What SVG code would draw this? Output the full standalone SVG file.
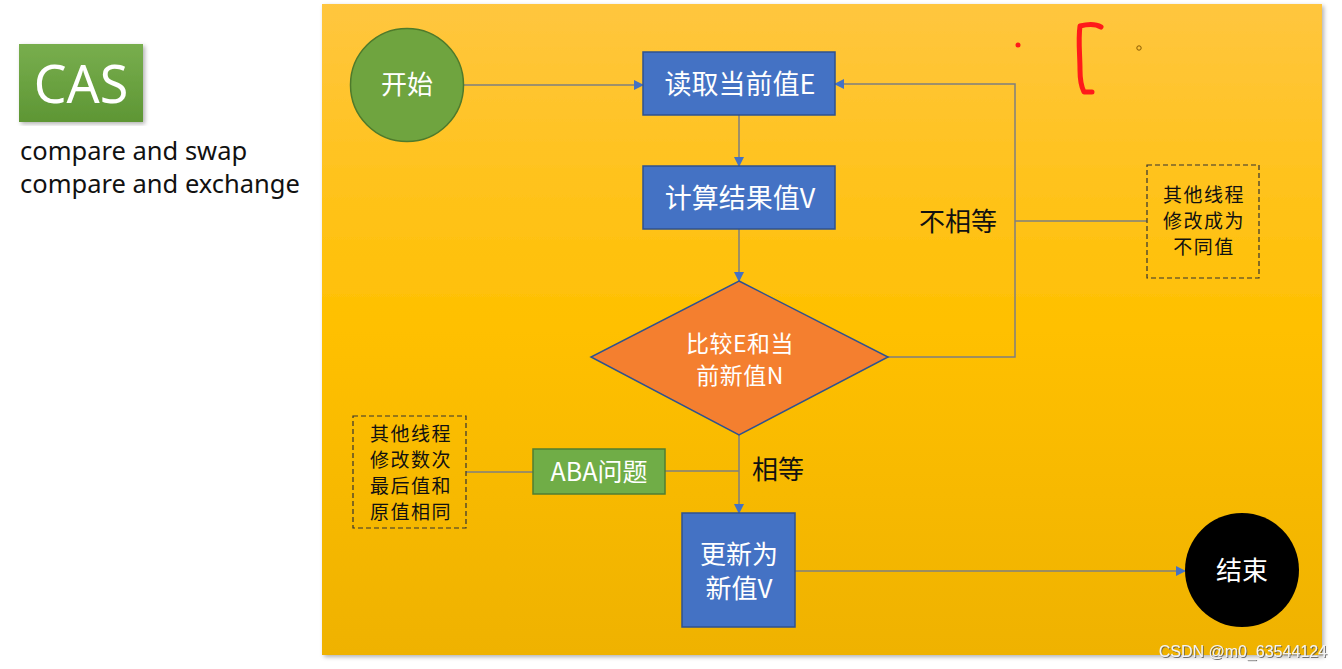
<svg xmlns="http://www.w3.org/2000/svg" width="1342" height="669" viewBox="0 0 1342 669">
<defs>
<linearGradient id="bg" x1="0" y1="0" x2="0" y2="1">
<stop offset="0" stop-color="#FFC63F"/>
<stop offset="0.5" stop-color="#FFC000"/>
<stop offset="1" stop-color="#EFB200"/>
</linearGradient>
<linearGradient id="gcas" x1="0" y1="0" x2="0" y2="1">
<stop offset="0" stop-color="#78AE4E"/>
<stop offset="1" stop-color="#5E9634"/>
</linearGradient>
<filter id="sh" x="-5%" y="-5%" width="110%" height="110%">
<feDropShadow dx="2" dy="2" stdDeviation="2" flood-color="#000" flood-opacity="0.3"/>
</filter>
<filter id="tsh" x="-5%" y="-20%" width="110%" height="140%">
<feDropShadow dx="1" dy="1" stdDeviation="0.6" flood-color="#555" flood-opacity="0.8"/>
</filter>
<marker id="arr" viewBox="0 0 10 10" refX="9" refY="5" markerWidth="10" markerHeight="10" markerUnits="userSpaceOnUse" orient="auto">
<path d="M0,0 L10,5 L0,10 z" fill="#4472C4"/>
</marker>
<style>
.cjk{font-family:"Noto Sans CJK SC","Noto Sans",sans-serif;}
.en{font-family:"Noto Sans","Open Sans",sans-serif;}
.w{fill:#fff;}
.k{fill:#111;}
.note{font-size:19px;letter-spacing:1.5px;}
.blue{fill:#4472C4;stroke:#2F528F;stroke-width:1.5;}
.green{fill:#70AD47;stroke:#507E32;stroke-width:1.5;}
.dash{fill:none;stroke:#333;stroke-width:1.2;stroke-dasharray:5 3;}
.ln{fill:none;stroke:#7F7F7F;stroke-width:1.5;}
.la{fill:none;stroke:#7F7F7F;stroke-width:1.5;marker-end:url(#arr);}
</style>
</defs>
<rect width="1342" height="669" fill="#fff"/>
<g id="title">
<rect x="19" y="44" width="124" height="78" fill="url(#gcas)" filter="url(#sh)"/>
<text class="en" x="81" y="103" font-size="52" fill="#fff" text-anchor="middle">CAS</text>
<text class="en" font-size="25.5" fill="#111"><tspan x="20" y="160">compare and swap</tspan><tspan x="20" y="193">compare and exchange</tspan></text>
</g>
<rect id="panel" x="322" y="4" width="1000" height="651" fill="url(#bg)" filter="url(#sh)"/>
<g id="connectors">
<line class="la" x1="464" y1="85" x2="643" y2="85"/>
<line class="la" x1="739" y1="115" x2="739" y2="166"/>
<line class="la" x1="739" y1="229" x2="739" y2="281"/>
<polyline class="la" points="888,357 1015,357 1015,84 835,84"/>
<line class="ln" x1="1015" y1="221" x2="1147" y2="221"/>
<line class="la" x1="739" y1="435" x2="739" y2="513"/>
<line class="ln" x1="665" y1="471" x2="739" y2="471"/>
<line class="ln" x1="466" y1="472" x2="533" y2="472"/>
<line class="la" x1="795" y1="571" x2="1185" y2="571"/>
</g>
<g id="start">
<circle cx="407" cy="85" r="56.5" fill="#6FA43F" stroke="#4E7A2B" stroke-width="1.5"/>
<text class="cjk w" x="407" y="94" font-size="26" text-anchor="middle">开始</text>
</g>
<g id="read">
<rect class="blue" x="643" y="52" width="192" height="63"/>
<text class="cjk w" x="740" y="94" font-size="27" text-anchor="middle">读取当前值E</text>
</g>
<g id="calc">
<rect class="blue" x="643" y="166" width="192" height="63"/>
<text class="cjk w" x="740" y="208" font-size="27" text-anchor="middle">计算结果值V</text>
</g>
<g id="compare">
<polygon points="739,281 888,357 739,435 591,357" fill="#F47F2F" stroke="#2F528F" stroke-width="1.5"/>
<text class="cjk w" font-size="23" letter-spacing="0.5" text-anchor="middle"><tspan x="740" y="352">比较E和当</tspan><tspan x="740" y="384">前新值N</tspan></text>
</g>
<g id="neq-label">
<text class="cjk k" x="958" y="231" font-size="26" text-anchor="middle">不相等</text>
</g>
<g id="note-diff">
<rect class="dash" x="1147" y="165" width="112" height="113"/>
<text class="cjk k note" text-anchor="middle"><tspan x="1204" y="202">其他线程</tspan><tspan x="1204" y="228">修改成为</tspan><tspan x="1204" y="254">不同值</tspan></text>
</g>
<g id="aba">
<rect class="green" x="533" y="449" width="132" height="45"/>
<text class="cjk w" x="599" y="481" font-size="25" text-anchor="middle">ABA问题</text>
</g>
<g id="note-aba">
<rect class="dash" x="353" y="416" width="113" height="112"/>
<text class="cjk k note" text-anchor="middle"><tspan x="411" y="441">其他线程</tspan><tspan x="411" y="467">修改数次</tspan><tspan x="411" y="493">最后值和</tspan><tspan x="411" y="519">原值相同</tspan></text>
</g>
<g id="eq-label">
<text class="cjk k" x="778" y="479" font-size="26" text-anchor="middle">相等</text>
</g>
<g id="update">
<rect class="blue" x="682" y="513" width="113" height="114"/>
<text class="cjk w" font-size="26" text-anchor="middle"><tspan x="739" y="564">更新为</tspan><tspan x="739" y="598">新值V</tspan></text>
</g>
<g id="end">
<ellipse cx="1242" cy="570" rx="57" ry="57" fill="#000"/>
<text class="cjk w" x="1242" y="580" font-size="26" text-anchor="middle">结束</text>
</g>
<g id="marks">
<circle cx="1018" cy="45" r="2.5" fill="#FF1A1A"/>
<path d="M1101,27 C1096,24 1088,24 1080,26 C1078,40 1080,55 1080,70 C1080,80 1082,88 1084,92 L1092,92" fill="none" stroke="#FF1A1A" stroke-width="5" stroke-linecap="round" stroke-linejoin="round"/>
<circle cx="1139" cy="48" r="2.2" fill="none" stroke="#8A5A00" stroke-width="1"/>
</g>
<text x="1327" y="657" font-family="'Liberation Sans',sans-serif" font-size="16" fill="#f4f4f4" filter="url(#tsh)" text-anchor="end">CSDN @m0_63544124</text>
</svg>
